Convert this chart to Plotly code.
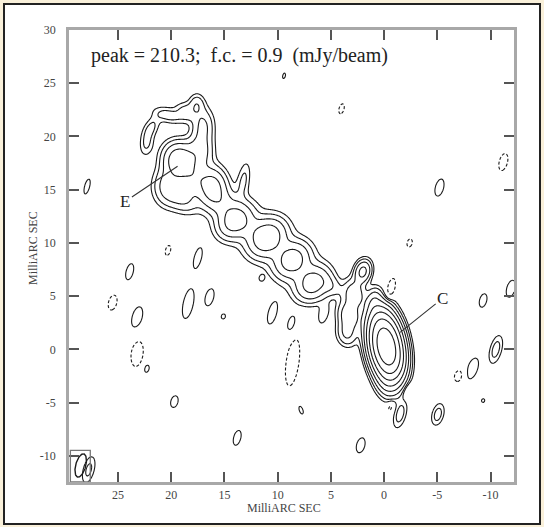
import numpy as np
import plotly.graph_objects as go

# ---------------- data ----------------
x_range = [29.6, -12.2]
y_range = [-12.45, 30.0]
x_tick_vals = [25, 20, 15, 10, 5, 0, -5, -10]
x_tick_text = ["25", "20", "15", "10", "5", "0", "-5", "-10"]
y_tick_vals = [30, 25, 20, 15, 10, 5, 0, -5, -10]
y_tick_text = ["30", "25", "20", "15", "10", "5", "0", "-5", "-10"]

peak_flux = 210.3          # mJy/beam
first_contour = 0.9        # mJy/beam
n_levels = 8               # contours at 1,2,4,...,128 x f.c.

# emission components: x, y (mas), amplitude (mJy/beam), FWHM major/minor (mas), PA (deg)
# core (C) region
core_x   = [-0.2, 0.6, -0.2, 1.0, -0.9, 2.0, 2.8, 3.3, 3.5, 4.9]
core_y   = [0.3, 2.8, -3.0, 4.6, -1.0, 7.3, 5.2, 3.2, 1.5, 5.9]
core_amp = [205, 6, 4, 4, 8, 9, 6, 6, 4, 2.2]
core_maj = [3.7, 2.6, 2.4, 1.8, 2.0, 1.6, 2.0, 2.0, 1.8, 1.8]
core_min = [1.8, 1.5, 1.5, 1.0, 1.5, 1.1, 1.5, 1.5, 1.4, 1.3]
core_pa  = [10, 0, 10, -10, 0, -15, 10, 15, 10, 47]

# jet knots, diffuse jet envelope and E region
jet_x   = [6.7, 8.65, 11.0, 12.6, 14.0, 15.1, 16.15, 13.2, 19.2, 17.3, 17.0, 17.6, 18.6, 20.3,
           21.9, 22.3, 20.3, 18.9, 17.8, 7.7, 9.8, 12.5, 14.8]
jet_y   = [6.2, 8.4, 10.5, 11.4, 12.1, 13.7, 15.2, 15.9, 17.7, 18.6, 21.0, 23.0, 22.3, 22.0,
           20.8, 19.3, 15.3, 14.3, 16.0, 7.3, 9.4, 11.3, 13.4]
jet_amp = [10, 10, 12, 1.2, 10, 3.0, 10, 2.0, 13, 5, 4, 3, 2.5, 2.5,
           2.2, 2.0, 5, 4, 4, 0.8, 0.8, 0.8, 0.8]
jet_maj = [2.5, 2.5, 2.7, 2.0, 2.5, 2.0, 2.6, 2.8, 2.4, 2.5, 2.5, 1.5, 1.6, 2.2,
           1.8, 1.8, 2.6, 2.4, 2.0, 4.0, 4.0, 4.0, 4.0]
jet_min = [2.1, 2.1, 2.2, 1.8, 2.0, 1.8, 1.9, 0.9, 2.1, 1.8, 1.5, 1.1, 1.3, 1.1,
           1.0, 1.0, 2.0, 1.9, 1.8, 4.0, 4.0, 4.0, 4.0]
jet_pa  = [-43, -43, -43, 47, -43, 30, 0, -10, 20, 0, 0, 0, 60, 75,
           -30, -10, 0, 45, 0, 47, 47, 47, 47]

# low-level residual blobs (negative = dashed contours)
blob_x   = [27.9, 20.3, 17.5, 23.9, 25.5, 23.2, 18.4, 16.4, 15.1, 23.2, 22.3, 19.7, 11.5, 10.5,
            8.7, 5.7, 8.6, 7.8, 13.8, 2.2, -2.4, -0.6, -2.2, -1.5, -5.05, -0.6, -11.2, -5.2,
            -11.9, -9.3, -10.5, -8.3, -7.0, -9.3, 4.0, 9.4, 27.75]
blob_y   = [15.3, 9.3, 8.6, 7.3, 4.4, 3.0, 4.3, 4.9, 3.1, -0.4, -1.8, -4.9, 6.7, 3.4,
            2.4, 3.3, -1.2, -5.7, -8.3, -9.0, 10.0, 5.6, -3.9, -6.1, -6.1, -5.4, 17.6, 15.2,
            5.7, 4.6, 0.0, -1.8, -2.5, -4.8, 22.6, 25.7, -11.3]
blob_amp = [1.5, -1.5, 1.5, 1.5, -1.5, 1.5, 1.5, 1.5, 1.5, -1.5, 1.5, 1.5, 1.5, 1.5,
            1.5, 1.5, -1.5, 1.5, 1.5, 1.5, -1.5, -1.8, -1.5, 2.5, 2.5, -1.5, -1.5, 1.5,
            1.5, 1.5, 2.5, 1.5, -1.5, 1.5, -1.5, 1.5, 2.2]
blob_maj = [1.66, 1.1, 2.2, 1.8, 1.66, 2.4, 3.3, 1.9, 0.55, 2.8, 0.9, 1.3, 0.55, 2.4,
            1.9, 1.9, 5.2, 0.9, 1.66, 1.66, 0.9, 2.2, 1.3, 2.1, 1.7, 1.0, 1.9, 1.9,
            1.9, 1.5, 2.2, 2.4, 1.3, 0.4, 1.1, 0.6, 2.2]
blob_min = [0.55, 0.55, 0.78, 0.78, 0.9, 1.1, 1.1, 0.9, 0.45, 1.3, 0.55, 0.78, 0.45, 0.9,
            0.9, 0.9, 1.4, 0.4, 0.78, 0.9, 0.55, 0.78, 0.78, 0.9, 0.9, 0.6, 0.9, 0.9,
            0.9, 0.78, 0.9, 1.1, 0.9, 0.35, 0.55, 0.3, 0.9]
blob_pa  = [-15, -15, -15, -15, -15, -15, -12, -15, -15, -8, -15, -15, -15, -15,
            -15, -15, -8, 20, -15, -15, -15, -15, -15, -15, -15, -15, -15, -15,
            -15, -15, -15, -20, -15, -15, -15, -15, -15]

# restoring beam (FWHM ellipse) and its box
beam_x, beam_y = 28.5, -10.9
beam_maj, beam_min, beam_pa = 2.25, 0.94, -15
beam_box_x = [29.47, 27.6]
beam_box_y = [-9.48, -12.45]

# feature labels
label_text = ["E", "C"]
label_x = [24.3, -5.5]
label_y = [13.9, 4.8]
target_x = [19.4, -1.5]
target_y = [17.2, 1.6]

header = "peak = 210.3;  f.c. = 0.9  (mJy/beam)"

# ---------------- model image ----------------
step = 0.075
gx = np.arange(x_range[1], x_range[0] + step, step)
gy = np.arange(y_range[0], y_range[1] + step, step)
X, Y = np.meshgrid(gx, gy)
img = np.zeros_like(X)

def add_gauss(img, x0, y0, a, fmaj, fmin, pa):
    s_maj = fmaj / 2.3548
    s_min = fmin / 2.3548
    t = np.deg2rad(pa)
    dx = X - x0
    dy = Y - y0
    u = dx * np.sin(t) + dy * np.cos(t)
    v = dx * np.cos(t) - dy * np.sin(t)
    return img + a * np.exp(-0.5 * ((u / s_maj) ** 2 + (v / s_min) ** 2))

for p in zip(core_x, core_y, core_amp, core_maj, core_min, core_pa):
    img = add_gauss(img, *p)
for p in zip(jet_x, jet_y, jet_amp, jet_maj, jet_min, jet_pa):
    img = add_gauss(img, *p)
for p in zip(blob_x, blob_y, blob_amp, blob_maj, blob_min, blob_pa):
    img = add_gauss(img, *p)

z_pos = np.round(np.log2(np.maximum(img, 1e-3) / first_contour), 3)
z_neg = np.round(np.log2(np.maximum(-img, 1e-3) / first_contour), 3)

fig = go.Figure()
fig.add_trace(go.Contour(
    x=np.round(gx, 3), y=np.round(gy, 3), z=z_pos,
    contours=dict(start=0, end=n_levels - 1, size=1, coloring="none"),
    line=dict(color="#1a1a1a", width=1.1, smoothing=1.0),
    showscale=False, hoverinfo="skip"))
fig.add_trace(go.Contour(
    x=np.round(gx, 3), y=np.round(gy, 3), z=z_neg,
    contours=dict(start=0, end=0.5, size=1, coloring="none"),
    line=dict(color="#1a1a1a", width=1.1, dash="3px,2px", smoothing=1.0),
    showscale=False, hoverinfo="skip"))

# beam ellipse
th = np.linspace(0, 2 * np.pi, 120)
t = np.deg2rad(beam_pa)
u = beam_maj / 2 * np.cos(th)
v = beam_min / 2 * np.sin(th)
ex = beam_x + u * np.sin(t) + v * np.cos(t)
ey = beam_y + u * np.cos(t) - v * np.sin(t)
fig.add_trace(go.Scatter(x=ex, y=ey, mode="lines",
                         line=dict(color="#1a1a1a", width=1.4),
                         hoverinfo="skip", showlegend=False))

W, H = 544, 527
ml, mr, mt, mb = 69, 30, 30, 45
pw, ph = W - ml - mr, H - mt - mb

def px2paper(px, py):
    return (px - ml) / pw, (H - mb - py) / ph

fx0, fy0 = px2paper(4, 524)
fx1, fy1 = px2paper(540, 4)

shapes = [
    dict(type="rect", xref="paper", yref="paper", x0=fx0, y0=fy0, x1=fx1, y1=fy1,
         fillcolor="white", line=dict(color="#222222", width=2), layer="below"),
    dict(type="rect", xref="x", yref="y", x0=beam_box_x[0], x1=beam_box_x[1],
         y0=beam_box_y[0], y1=beam_box_y[1], line=dict(color="#777777", width=1.3)),
]

serif = "Liberation Serif, Times New Roman, serif"
annotations = []
for txt, lx, ly, tx, ty in zip(label_text, label_x, label_y, target_x, target_y):
    annotations.append(dict(x=tx, y=ty, ax=lx, ay=ly, axref="x", ayref="y",
                            xref="x", yref="y", text=txt, showarrow=True,
                            arrowhead=0, arrowwidth=1.1, arrowcolor="#333333",
                            font=dict(family=serif, size=17, color="#222222")))
hx, hy = px2paper(89, 55)
annotations.append(dict(x=hx, y=hy, xref="paper", yref="paper", text=header,
                        showarrow=False, xanchor="left", yanchor="middle",
                        font=dict(family=serif, size=20, color="#222222")))
tx_, ty_ = px2paper(284, 508)
annotations.append(dict(x=tx_, y=ty_, xref="paper", yref="paper", text="MilliARC SEC",
                        showarrow=False, xanchor="center", yanchor="middle",
                        font=dict(family=serif, size=12, color="#444444")))
yx_, yy_ = px2paper(33, 248)
annotations.append(dict(x=yx_, y=yy_, xref="paper", yref="paper", text="MilliARC SEC",
                        showarrow=False, xanchor="center", yanchor="middle", textangle=-90,
                        font=dict(family=serif, size=12, color="#444444")))

axis_common = dict(showline=True, linecolor="#a8a8a8", linewidth=2.5, mirror="ticks",
                   ticks="inside", ticklen=10, tickwidth=1.5, tickcolor="#555555",
                   showgrid=False, zeroline=False,
                   tickfont=dict(family=serif, size=12, color="#444444"))

fig.update_layout(
    width=W, height=H,
    margin=dict(l=ml, r=mr, t=mt, b=mb, pad=0),
    paper_bgcolor="#f9f0da", plot_bgcolor="white",
    showlegend=False,
    xaxis=dict(range=x_range, tickvals=x_tick_vals, ticktext=x_tick_text,
               ticklabelstandoff=0, **axis_common),
    yaxis=dict(range=y_range, tickvals=y_tick_vals, ticktext=y_tick_text,
               ticklabelstandoff=8, **axis_common),
    shapes=shapes, annotations=annotations,
)

fig.write_html("out.html")
